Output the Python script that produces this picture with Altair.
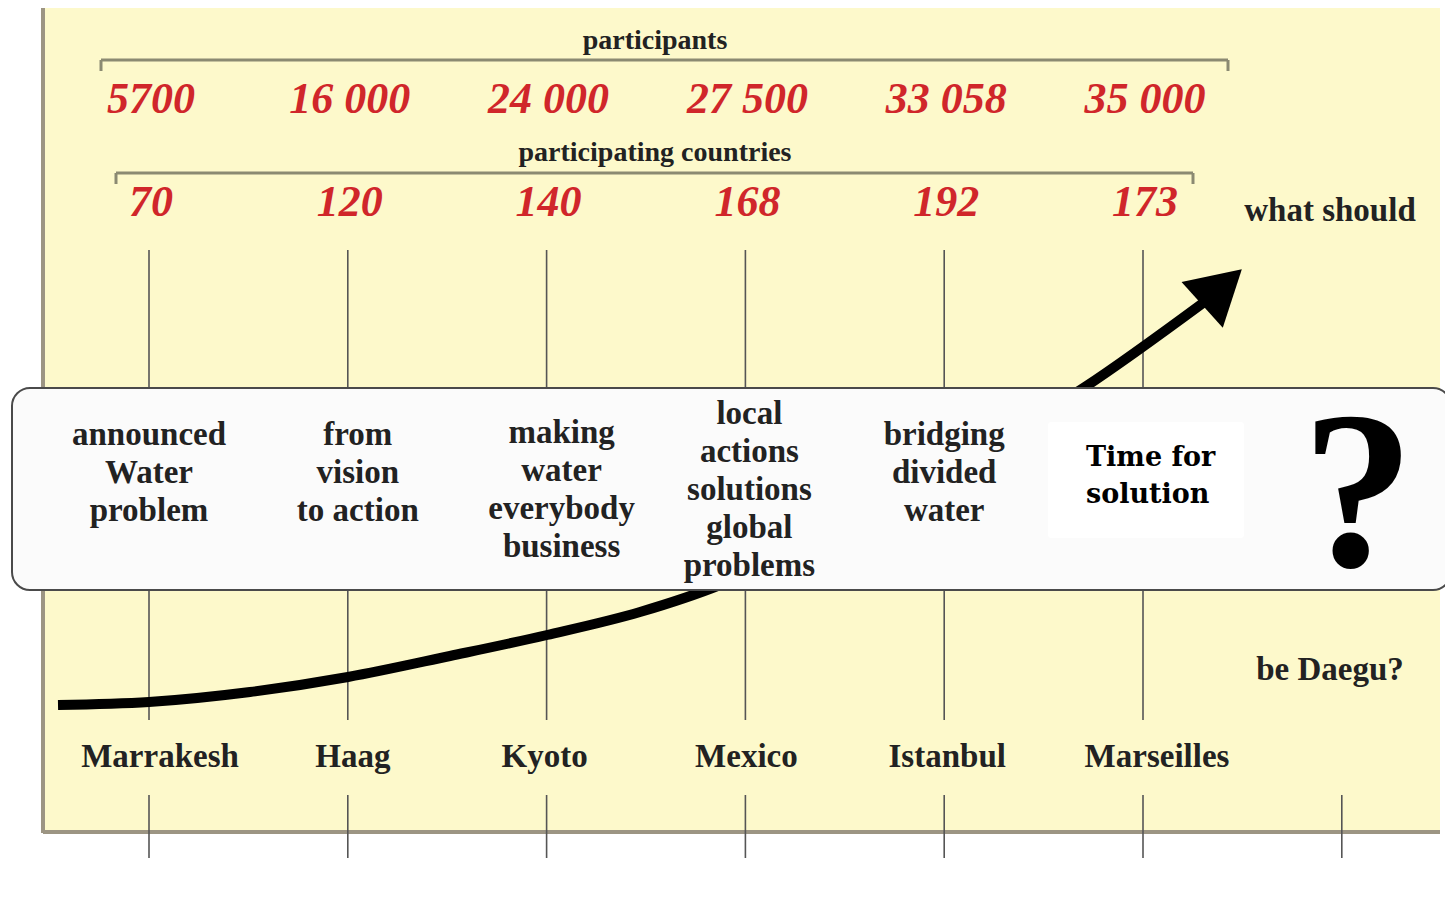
import altair as alt
import pandas as pd

# ---- content -------------------------------------------------------------
cities = ["Marrakesh", "Haag", "Kyoto", "Mexico", "Istanbul", "Marseilles"]
participants = ["5700", "16 000", "24 000", "27 500", "33 058", "35 000"]
countries = ["70", "120", "140", "168", "192", "173"]
themes = [
    "announced\nWater\nproblem",
    "from\nvision\nto action",
    "making\nwater\neverybody\nbusiness",
    "local\nactions\nsolutions\nglobal\nproblems",
    "bridging\ndivided\nwater",
]
next_theme = "Time for\nsolution"
row_titles = ["participants", "participating countries"]
question_top = "what should"
question_bottom = "be Daegu?"

# growth arrow path (page pixels)
curve_x = [58, 149, 250, 348, 450, 547, 640, 720, 850, 1000, 1085, 1203]
curve_y = [705, 702, 692, 677, 656, 635, 612, 585, 520, 440, 387, 303]

# ---- layout --------------------------------------------------------------
W, H = 1437, 882
col_x = [149 + 198.8 * i for i in range(7)]
theme_dx = [0, 10, 15, 4, 0]          # label nudges seen in the picture
city_dx = [11, 5, -2, 1, 3, 14]
XS = alt.Scale(domain=[8, 8 + W], nice=False, zero=False)
YS = alt.Scale(domain=[8, 8 + H], nice=False, zero=False, reverse=True)
SERIF = "Liberation Serif"
DARK = "#222222"
RED = "#d0262a"
YELLOW = "#fdf9cb"
LINE = "#555555"
FRAME = "#9c9583"


def X(f="x"):
    return alt.X(f"{f}:Q", scale=XS, axis=None)


def Y(f="y"):
    return alt.Y(f"{f}:Q", scale=YS, axis=None)


def rect_layer(rows, **kw):
    return alt.Chart(pd.DataFrame(rows)).mark_rect(**kw).encode(
        x=X(), x2="x2:Q", y=Y(), y2="y2:Q")


def rule_layer(rows, **kw):
    return alt.Chart(pd.DataFrame(rows)).mark_rule(**kw).encode(
        x=X(), x2="x2:Q", y=Y(), y2="y2:Q")


def text_layer(rows, **kw):
    return alt.Chart(pd.DataFrame(rows)).mark_text(**kw).encode(
        x=X(), y=Y(), text="t:N")


bg = rect_layer([{"x": 44, "x2": 1440, "y": 8, "y2": 832}], color=YELLOW)

frame = rule_layer([
    {"x": 43, "x2": 43, "y": 8, "y2": 833},
    {"x": 43, "x2": 1440, "y": 832, "y2": 832},
], color=FRAME, strokeWidth=4)

col_rows = []
for i, cx in enumerate(col_x):
    if i < 6:
        col_rows.append({"x": cx, "x2": cx, "y": 250, "y2": 720})
    col_rows.append({"x": cx, "x2": cx, "y": 795, "y2": 858})
col_lines = rule_layer(col_rows, color=LINE, strokeWidth=1.6)

brackets = rule_layer([
    {"x": 101, "x2": 1228, "y": 60, "y2": 60},
    {"x": 101, "x2": 101, "y": 60, "y2": 71},
    {"x": 1228, "x2": 1228, "y": 60, "y2": 71},
    {"x": 116, "x2": 1193, "y": 173, "y2": 173},
    {"x": 116, "x2": 116, "y": 173, "y2": 184},
    {"x": 1193, "x2": 1193, "y": 173, "y2": 184},
], color="#8b8a72", strokeWidth=3)

titles = text_layer([
    {"x": 655, "y": 41, "t": row_titles[0]},
    {"x": 655, "y": 153, "t": row_titles[1]},
], font=SERIF, fontWeight="bold", fontSize=28, color=DARK, baseline="middle", align="center")

part_txt = text_layer(
    [{"x": col_x[i] + 2, "y": 100, "t": v} for i, v in enumerate(participants)],
    font=SERIF, fontWeight="bold", fontStyle="italic", fontSize=44, color=RED,
    baseline="middle", align="center")
ctry_txt = text_layer(
    [{"x": col_x[i] + 2, "y": 203, "t": v} for i, v in enumerate(countries)],
    font=SERIF, fontWeight="bold", fontStyle="italic", fontSize=44, color=RED,
    baseline="middle", align="center")

curve = alt.Chart(pd.DataFrame({"x": curve_x, "y": curve_y, "o": range(len(curve_x))})).mark_line(
    color="black", strokeWidth=10, interpolate="monotone", strokeCap="butt").encode(
    x=X(), y=Y(), order="o:Q")

arrow_head = alt.Chart(pd.DataFrame({"x": [1222], "y": [287]})).mark_point(
    shape="triangle-up", filled=True, color="black", opacity=1, size=3800, angle=48).encode(
    x=X(), y=Y())

box = rect_layer([{"x": 12, "x2": 1451, "y": 388, "y2": 590}],
                 color="#fbfbfb", stroke="#4a4a4a", strokeWidth=2, cornerRadius=18)
white_card = rect_layer([{"x": 1048, "x2": 1244, "y": 422, "y2": 538}],
                        color="#ffffff", cornerRadius=3)

LH = 38
theme_rows = []
for i, t in enumerate(themes):
    n = t.count("\n") + 1
    y_first = min(445, 500 - (n - 1) / 2 * LH)
    theme_rows.append({"x": col_x[i] + theme_dx[i], "y": y_first, "t": t})
theme_txt = text_layer(theme_rows, font=SERIF, fontWeight="bold", fontSize=33, color=DARK,
                       baseline="alphabetic", align="center", lineBreak="\n", lineHeight=LH)

next_txt = text_layer([{"x": 1086, "y": 466, "t": next_theme}],
                      font="DejaVu Serif", fontWeight="bold", fontSize=27, color="black",
                      baseline="alphabetic", align="left", lineBreak="\n", lineHeight=37)

qmark = text_layer([{"x": 1358, "y": 566, "t": "?"}],
                   font=SERIF, fontWeight="bold", fontSize=225, color="black",
                   baseline="alphabetic", align="center")

city_txt = text_layer(
    [{"x": col_x[i] + city_dx[i], "y": 757, "t": c} for i, c in enumerate(cities)],
    font=SERIF, fontWeight="bold", fontSize=33, color=DARK, baseline="middle", align="center")

q_txt = text_layer([
    {"x": 1330, "y": 211, "t": question_top},
    {"x": 1330, "y": 670, "t": question_bottom},
], font=SERIF, fontWeight="bold", fontSize=33, color=DARK, baseline="middle", align="center")

chart = alt.layer(
    bg, frame, col_lines, brackets, titles, part_txt, ctry_txt,
    curve, arrow_head, box, white_card, theme_txt, next_txt, qmark, city_txt, q_txt,
).properties(
    width=W, height=H, padding=0, autosize=alt.AutoSizeParams(type="none"),
    background="#ffffff",
).configure_view(stroke=None)

chart.save("out.html", embed_options={"renderer": "svg", "actions": False})
